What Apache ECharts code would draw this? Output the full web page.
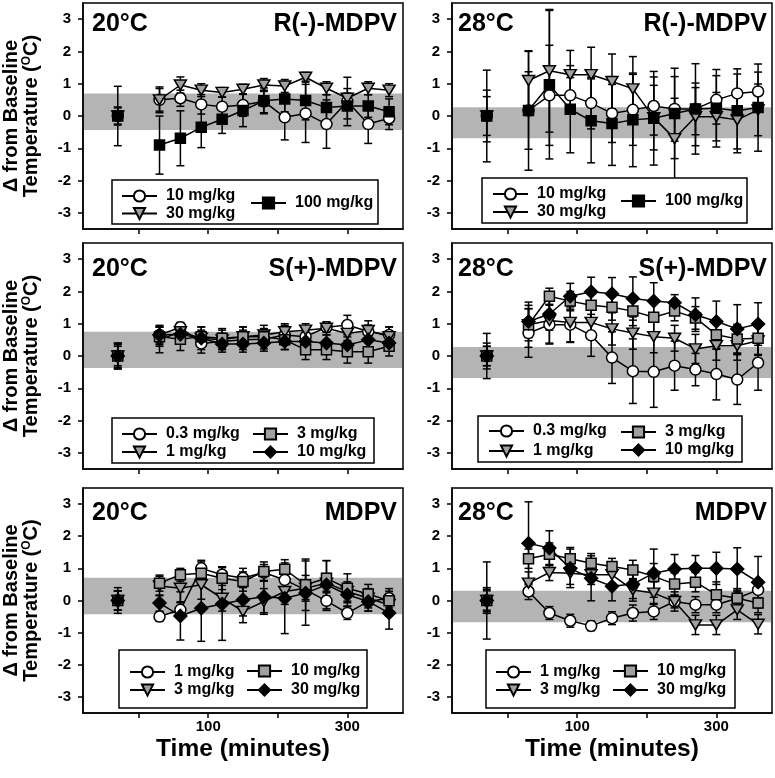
<!DOCTYPE html>
<html><head><meta charset="utf-8">
<script src="https://cdn.jsdelivr.net/npm/echarts@6/dist/echarts.min.js"></script>
<style>html,body{margin:0;padding:0;background:#fff}#c{width:775px;height:778px}</style>
</head><body><div id="c"></div>
<script>
// ---------- data ----------
const times = [-30, 30, 60, 90, 120, 150, 180, 210, 240, 270, 300, 330, 360];
const xTickValues = [0, 100, 200, 300];
const xLabelValues = [100, 300];
const yTickValues = [-3, -2, -1, 0, 1, 2, 3];

// R(-)-MDPV 20°C
const r20_10 = [0, 0.5, 0.55, 0.36, 0.29, 0.34, 0.45, -0.04, 0.08, -0.25, 0.45, -0.25, -0.07];
const r20_10_err = [0.28, 0.35, 0.25, 0.3, 0.3, 0.35, 0.35, 0.7, 0.9, 0.75, 0.75, 0.6, 0.35];
const r20_30 = [0, 0.5, 0.96, 0.8, 0.73, 0.83, 0.96, 0.93, 1.2, 0.86, 0.55, 0.86, 0.8];
const r20_30_err = [0.25, 0.4, 0.25, 0.2, 0.15, 0.15, 0.2, 0.2, 0.15, 0.2, 0.3, 0.2, 0.2];
const r20_100 = [0, -0.9, -0.69, -0.35, -0.1, 0.17, 0.47, 0.53, 0.48, 0.26, 0.31, 0.31, 0.13];
const r20_100_err = [0.92, 0.9, 0.85, 0.63, 0.44, 0.5, 0.4, 0.4, 0.6, 0.4, 0.4, 0.35, 0.4];
// R(-)-MDPV 28°C
const r28_10 = [0, 0.17, 0.64, 0.64, 0.4, 0.08, 0.19, 0.31, 0.22, 0.22, 0.5, 0.7, 0.76];
const r28_10_err = [0.6, 1.2, 1.55, 0.55, 0.8, 0.9, 1.1, 0.9, 1.0, 0.8, 0.75, 0.6, 0.6];
const r28_30 = [0, 1.1, 1.4, 1.28, 1.28, 1.07, 0.84, -0.05, -0.7, -0.02, -0.02, -0.12, 0.19];
const r28_30_err = [0.8, 0.9, 1.9, 0.75, 0.85, 0.85, 1.0, 1.0, 1.25, 0.9, 0.75, 0.9, 0.8];
const r28_100 = [0, 0.17, 0.97, 0.21, -0.15, -0.23, -0.12, -0.07, 0.08, 0.22, 0.24, 0.16, 0.26];
const r28_100_err = [1.42, 1.85, 2.3, 1.35, 1.3, 1.3, 1.45, 1.45, 1.4, 1.4, 1.2, 1.3, 1.35];
// S(+)-MDPV 20°C
const s20_03 = [0, 0.65, 0.89, 0.39, 0.45, 0.5, 0.52, 0.65, 0.6, 0.89, 0.96, 0.76, 0.65];
const s20_03_err = [0.3, 0.3, 0.15, 0.3, 0.25, 0.3, 0.3, 0.3, 0.3, 0.15, 0.3, 0.2, 0.25];
const s20_1 = [0, 0.5, 0.75, 0.55, 0.5, 0.6, 0.65, 0.75, 0.8, 0.86, 0.7, 0.79, 0.6];
const s20_1_err = [0.35, 0.4, 0.25, 0.35, 0.3, 0.3, 0.3, 0.25, 0.2, 0.2, 0.3, 0.3, 0.3];
const s20_3 = [0, 0.6, 0.52, 0.6, 0.55, 0.6, 0.6, 0.5, 0.19, 0.19, 0.13, 0.13, 0.3];
const s20_3_err = [0.4, 0.3, 0.35, 0.3, 0.3, 0.3, 0.25, 0.3, 0.3, 0.3, 0.35, 0.35, 0.3];
const s20_10 = [0, 0.65, 0.67, 0.55, 0.37, 0.37, 0.4, 0.45, 0.45, 0.4, 0.34, 0.5, 0.4];
const s20_10_err = [0.4, 0.25, 0.25, 0.25, 0.25, 0.25, 0.25, 0.25, 0.3, 0.25, 0.25, 0.25, 0.25];
// S(+)-MDPV 28°C
const s28_03 = [0, 0.71, 0.97, 0.97, 0.64, -0.05, -0.47, -0.49, -0.3, -0.42, -0.56, -0.73, -0.21];
const s28_03_err = [0.7, 0.75, 0.6, 0.55, 0.65, 0.8, 1.0, 1.1, 0.76, 0.5, 0.8, 0.77, 0.85];
const s28_1 = [0, 0.97, 1.1, 1.04, 1.04, 0.84, 0.71, 0.6, 0.55, 0.22, 0.32, 0.32, 0.47];
const s28_1_err = [0.4, 0.7, 0.7, 0.6, 0.4, 0.5, 0.5, 0.5, 0.4, 0.45, 0.45, 0.45, 0.45];
const s28_3 = [0, 0.97, 1.85, 1.7, 1.57, 1.51, 1.39, 1.2, 1.39, 1.18, 0.66, 0.53, 0.55];
const s28_3_err = [0.3, 0.5, 0.25, 0.3, 0.4, 0.4, 0.45, 0.5, 0.3, 0.35, 0.45, 0.45, 0.5];
const s28_10 = [0, 1.07, 1.3, 1.85, 1.99, 1.93, 1.78, 1.7, 1.65, 1.28, 1.07, 0.84, 0.99];
const s28_10_err = [0.3, 0.5, 0.5, 0.4, 0.45, 0.5, 0.67, 0.57, 0.25, 0.52, 0.63, 0.75, 0.66];
// MDPV 20°C
const m20_1 = [0, -0.5, -0.29, 1.0, 0.8, 0.7, 0.87, 0.64, 0.33, -0.01, -0.39, -0.03, 0.07];
const m20_1_err = [0.3, 0.15, 0.25, 0.25, 0.25, 0.3, 0.25, 0.3, 0.3, 0.3, 0.2, 0.3, 0.3];
const m20_3 = [0, 0.45, 0.38, 0.49, 0.07, -0.34, -0.03, 0.28, 0.38, 0.54, 0.28, 0.07, -0.13];
const m20_3_err = [0.3, 0.3, 0.45, 0.45, 0.4, 0.35, 0.4, 0.4, 0.4, 0.3, 0.3, 0.3, 0.35];
const m20_10 = [0, 0.54, 0.8, 0.85, 0.69, 0.59, 0.9, 0.97, 0.49, 0.69, 0.38, 0.2, -0.01];
const m20_10_err = [0.3, 0.25, 0.2, 0.35, 0.35, 0.3, 0.3, 0.3, 0.8, 0.55, 0.45, 0.3, 0.3];
const m20_30 = [0, -0.08, -0.48, -0.24, -0.11, 0.02, 0.12, 0.07, 0.23, 0.49, 0.18, -0.03, -0.39];
const m20_30_err = [0.4, 0.25, 0.75, 1.03, 1.13, 0.5, 0.5, 1.1, 1.0, 0.75, 0.35, 0.3, 0.5];
// MDPV 28°C
const m28_1 = [0, 0.28, -0.39, -0.63, -0.79, -0.55, -0.39, -0.34, -0.03, -0.13, -0.13, 0.07, 0.33];
const m28_1_err = [0.4, 0.25, 0.2, 0.2, 0.15, 0.2, 0.25, 0.25, 0.2, 0.25, 0.25, 0.2, 0.25];
const m28_3 = [0, 0.54, 0.87, 0.85, 0.8, 0.8, 0.33, 0.23, -0.03, -0.76, -0.76, -0.29, -0.74];
const m28_3_err = [0.35, 0.35, 0.25, 0.35, 0.3, 0.3, 0.35, 0.35, 0.3, 0.3, 0.3, 0.3, 0.3];
const m28_10 = [0, 1.3, 1.44, 1.3, 1.16, 1.06, 0.95, 0.75, 0.51, 0.57, 0.18, 0.07, -0.08];
const m28_10_err = [0.3, 0.3, 0.35, 0.35, 0.3, 0.25, 0.3, 0.4, 0.35, 0.3, 0.4, 0.3, 0.3];
const m28_30 = [0, 1.78, 1.63, 1.0, 0.69, 0.44, 0.51, 0.85, 0.98, 1.0, 1.0, 0.98, 0.57];
const m28_30_err = [1.2, 1.29, 0.54, 0.6, 0.7, 0.45, 0.45, 0.75, 0.45, 0.4, 0.5, 0.66, 0.8];

// baseline +/- band (low, high)
const bandA = [-0.43, 0.70];
const bandB = [-0.69, 0.27];
const bandC = [-0.37, 0.75];
const bandD = [-0.68, 0.28];
const bandE = [-0.43, 0.71];
const bandF = [-0.68, 0.30];

// ---------- styling / layout ----------
const FONT = "'Liberation Sans', Arial, sans-serif";
const GRAY = '#a0a0a0';
const marker = {
  circle: { symbol: 'circle', size: 11, color: '#fff' },
  tri: { symbol: 'path://M0,0L12,0L6,10Z', size: [12, 10], color: GRAY },
  sqBlack: { symbol: 'rect', size: 10, color: '#000' },
  sqGray: { symbol: 'rect', size: 10, color: GRAY },
  dia: { symbol: 'diamond', size: [13, 13], color: '#000' }
};

const panels = [
  { id: 'A', left: 83, top: 3, h: 226, col: 0, bottom: false, temp: '20°C', drug: 'R(-)-MDPV', band: bandA, ttop: 12,
    groups: [['10 mg/kg', r20_10, r20_10_err, 'circle'], ['30 mg/kg', r20_30, r20_30_err, 'tri'], ['100 mg/kg', r20_100, r20_100_err, 'sqBlack']],
    legend: [{ idx: [0, 1], left: 121, top: 188, gap: 1.5 }, { idx: [2], left: 250, top: 195, gap: 0 }],
    box: [112, 180, 266, 44] },
  { id: 'B', left: 452, top: 3, h: 226, col: 1, bottom: false, temp: '28°C', drug: 'R(-)-MDPV', band: bandB, ttop: 12,
    groups: [['10 mg/kg', r28_10, r28_10_err, 'circle'], ['30 mg/kg', r28_30, r28_30_err, 'tri'], ['100 mg/kg', r28_100, r28_100_err, 'sqBlack']],
    legend: [{ idx: [0, 1], left: 492, top: 186, gap: 2 }, { idx: [2], left: 620, top: 193, gap: 0 }],
    box: [482, 178, 265, 45] },
  { id: 'C', left: 83, top: 243, h: 226, col: 0, bottom: false, temp: '20°C', drug: 'S(+)-MDPV', band: bandC, ttop: 257,
    groups: [['0.3 mg/kg', s20_03, s20_03_err, 'circle'], ['1 mg/kg', s20_1, s20_1_err, 'tri'], ['3 mg/kg', s20_3, s20_3_err, 'sqGray'], ['10 mg/kg', s20_10, s20_10_err, 'dia']],
    legend: [{ idx: [0, 1], left: 121, top: 426, gap: 2 }, { idx: [2, 3], left: 252, top: 426, gap: 2 }],
    box: [112, 418, 262, 45] },
  { id: 'D', left: 452, top: 243, h: 226, col: 1, bottom: false, temp: '28°C', drug: 'S(+)-MDPV', band: bandD, ttop: 257,
    groups: [['0.3 mg/kg', s28_03, s28_03_err, 'circle'], ['1 mg/kg', s28_1, s28_1_err, 'tri'], ['3 mg/kg', s28_3, s28_3_err, 'sqGray'], ['10 mg/kg', s28_10, s28_10_err, 'dia']],
    legend: [{ idx: [0, 1], left: 488, top: 423, gap: 4 }, { idx: [2, 3], left: 620, top: 424, gap: 2 }],
    box: [478, 416, 264, 46] },
  { id: 'E', left: 83, top: 488, h: 225, col: 0, bottom: true, temp: '20°C', drug: 'MDPV', band: bandE, ttop: 501,
    groups: [['1 mg/kg', m20_1, m20_1_err, 'circle'], ['3 mg/kg', m20_3, m20_3_err, 'tri'], ['10 mg/kg', m20_10, m20_10_err, 'sqGray'], ['30 mg/kg', m20_30, m20_30_err, 'dia']],
    legend: [{ idx: [0, 1], left: 129, top: 664, gap: 2 }, { idx: [2, 3], left: 246, top: 663, gap: 3 }],
    box: [119, 650, 248, 58] },
  { id: 'F', left: 452, top: 488, h: 225, col: 1, bottom: true, temp: '28°C', drug: 'MDPV', band: bandF, ttop: 501,
    groups: [['1 mg/kg', m28_1, m28_1_err, 'circle'], ['3 mg/kg', m28_3, m28_3_err, 'tri'], ['10 mg/kg', m28_10, m28_10_err, 'sqGray'], ['30 mg/kg', m28_30, m28_30_err, 'dia']],
    legend: [{ idx: [0, 1], left: 495, top: 664, gap: 2 }, { idx: [2, 3], left: 612, top: 663, gap: 3 }],
    box: [486, 650, 249, 58] }
];

const axisLineStyle = { color: '#000', width: 1.5 };
const labelStyle = { fontSize: 15, fontWeight: 'bold', color: '#000', fontFamily: FONT };

const grids = [], xAxes = [], yAxes = [], series = [], titles = [], legends = [], graphics = [];

panels.forEach((p, k) => {
  grids.push({ left: p.left, top: p.top, width: 320, height: p.h, show: true, borderColor: '#000', borderWidth: 1.5,
    backgroundColor: 'rgba(0,0,0,0)', containLabel: false, outerBoundsMode: 'none' });
  xAxes.push({
    gridIndex: k, type: 'value', min: -80, max: 380,
    axisLine: { show: true, onZero: false, lineStyle: axisLineStyle },
    axisTick: { show: true, customValues: xTickValues, length: 5, lineStyle: axisLineStyle },
    axisLabel: Object.assign({ show: p.bottom, customValues: xLabelValues, margin: 6 }, labelStyle),
    splitLine: { show: false },
    name: p.bottom ? 'Time (minutes)' : '', nameLocation: 'middle', nameGap: 24,
    nameTextStyle: { fontSize: 24.5, fontWeight: 'bold', color: '#000', fontFamily: FONT }
  });
  yAxes.push({
    gridIndex: k, type: 'value', min: -3.5, max: 3.5,
    axisLine: { show: true, onZero: false, lineStyle: axisLineStyle },
    axisTick: { show: true, customValues: yTickValues, length: 5, lineStyle: axisLineStyle },
    axisLabel: Object.assign({ customValues: yTickValues, margin: 12 }, labelStyle),
    splitLine: { show: false },
    name: p.col === 0 ? '{a|Δ from Baseline}\n{a|Temperature (}{s|O}{a|C)}' : '',
    nameLocation: 'middle', nameRotate: 90, nameGap: 42,
    nameTextStyle: { rich: {
      a: { fontSize: 20, fontWeight: 'bold', color: '#000', fontFamily: FONT, lineHeight: 20 },
      s: { fontSize: 12, fontWeight: 'bold', color: '#000', fontFamily: FONT, lineHeight: 12, verticalAlign: 'top' }
    } }
  });
  // gray baseline band
  series.push({
    type: 'custom', xAxisIndex: k, yAxisIndex: k, z: 1, silent: true,
    data: [[0, p.band[0], p.band[1]]], encode: { x: 0, y: 1 },
    renderItem: (params, api) => {
      const cs = params.coordSys;
      const yHi = api.coord([0, api.value(2)])[1];
      const yLo = api.coord([0, api.value(1)])[1];
      return { type: 'rect', shape: { x: cs.x + 1, y: yHi, width: cs.width - 2, height: yLo - yHi }, style: { fill: '#b4b4b4' } };
    }
  });
  // error bars
  p.groups.forEach(g => {
    series.push({
      type: 'custom', xAxisIndex: k, yAxisIndex: k, z: 2, silent: true,
      data: times.map((t, i) => [t, g[1][i], g[2][i]]), encode: { x: 0, y: 1 },
      renderItem: (params, api) => {
        const x = api.value(0), y = api.value(1), e = api.value(2);
        const a = api.coord([x, y + e]), b = api.coord([x, y - e]);
        const w = 4, st = { stroke: '#000', lineWidth: 1.5 };
        return { type: 'group', children: [
          { type: 'line', shape: { x1: a[0], y1: a[1], x2: b[0], y2: b[1] }, style: st },
          { type: 'line', shape: { x1: a[0] - w, y1: a[1], x2: a[0] + w, y2: a[1] }, style: st },
          { type: 'line', shape: { x1: b[0] - w, y1: b[1], x2: b[0] + w, y2: b[1] }, style: st }
        ] };
      }
    });
  });
  // lines with markers (baseline point separated from the time course)
  p.groups.forEach(g => {
    const m = marker[g[3]];
    const data = [];
    times.forEach((t, i) => {
      data.push([t, g[1][i]]);
      if (i === 0) data.push([0, '-']);
    });
    series.push({
      type: 'line', name: p.id + '|' + g[0], xAxisIndex: k, yAxisIndex: k, z: 3,
      data, symbol: m.symbol, symbolSize: m.size, showSymbol: true, showAllSymbol: true, connectNulls: false,
      lineStyle: { color: '#000', width: 1.5 },
      itemStyle: { color: m.color, borderColor: '#000', borderWidth: 1.5 },
      emphasis: { disabled: true }, silent: true
    });
  });
  // titles
  titles.push({ text: p.temp, left: p.col === 0 ? 92 : 458, top: p.ttop, padding: 0,
    textStyle: { fontSize: 25, fontWeight: 'bold', color: '#000', fontFamily: FONT } });
  titles.push({ text: p.drug, right: p.col === 0 ? 378 : 8, top: p.ttop, padding: 0,
    textStyle: { fontSize: 25, fontWeight: 'bold', color: '#000', fontFamily: FONT } });
  // legends
  p.legend.forEach(L => {
    legends.push({
      orient: 'vertical', left: L.left, top: L.top, itemGap: L.gap, padding: 0,
      itemWidth: 35, itemHeight: 14, selectedMode: false,
      data: L.idx.map(i => p.id + '|' + p.groups[i][0]),
      formatter: n => n.split('|')[1],
      textStyle: { fontSize: 16, fontWeight: 'bold', color: '#000', fontFamily: FONT, lineHeight: 16, padding: [0, 0, 0, 4] }
    });
  });
  graphics.push({ type: 'rect', shape: { x: p.box[0], y: p.box[1], width: p.box[2], height: p.box[3] },
    style: { fill: '#fff', stroke: '#000', lineWidth: 1.5 }, z: 3, silent: true });
});

const chart = echarts.init(document.getElementById('c'), null, { renderer: 'canvas' });
chart.setOption({
  animation: false,
  backgroundColor: '#fff',
  grid: grids, xAxis: xAxes, yAxis: yAxes,
  title: titles, legend: legends,
  graphic: { elements: graphics },
  series
});
</script></body></html>
